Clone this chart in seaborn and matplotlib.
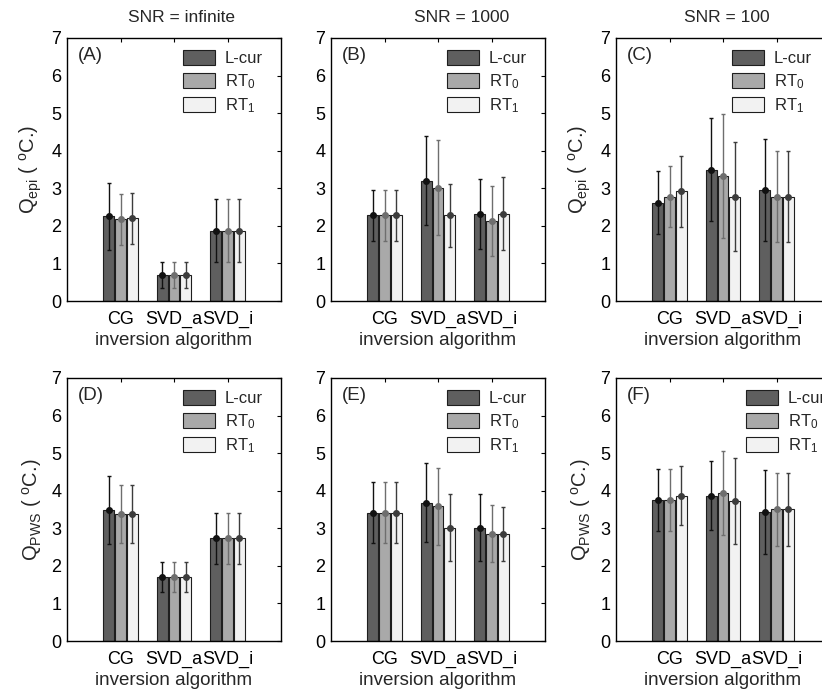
import numpy as np
import pandas as pd
import matplotlib
matplotlib.use('Agg')
import matplotlib.pyplot as plt
import seaborn as sns

sns.set_theme(style='white')
plt.rcParams['font.family'] = ['Liberation Sans', 'DejaVu Sans']
plt.rcParams['mathtext.default'] = 'regular'

# categories and methods
algorithms = ['CG', 'SVD_a', 'SVD_i']
methods = ['L-cur', 'RT$_0$', 'RT$_1$']
snr_titles = ['SNR = infinite', 'SNR = 1000', 'SNR = 100']
panel_tags = ['(A)', '(B)', '(C)', '(D)', '(E)', '(F)']

# mean values, one row per method (L-cur, RT0, RT1), columns = CG, SVD_a, SVD_i
epi_inf_mean = [[2.25, 0.70, 1.87], [2.18, 0.70, 1.87], [2.20, 0.70, 1.87]]
epi_inf_err = [[0.88, 0.35, 0.84], [0.68, 0.35, 0.84], [0.68, 0.35, 0.84]]
epi_1000_mean = [[2.28, 3.20, 2.32], [2.28, 3.02, 2.13], [2.28, 2.28, 2.32]]
epi_1000_err = [[0.68, 1.18, 0.93], [0.68, 1.27, 0.92], [0.68, 0.83, 0.97]]
epi_100_mean = [[2.62, 3.50, 2.95], [2.78, 3.33, 2.78], [2.92, 2.78, 2.78]]
epi_100_err = [[0.83, 1.37, 1.35], [0.80, 1.64, 1.22], [0.94, 1.44, 1.22]]

pws_inf_mean = [[3.48, 1.70, 2.73], [3.38, 1.70, 2.73], [3.38, 1.70, 2.73]]
pws_inf_err = [[0.90, 0.39, 0.68], [0.77, 0.39, 0.68], [0.77, 0.39, 0.68]]
pws_1000_mean = [[3.42, 3.68, 3.02], [3.42, 3.58, 2.85], [3.42, 3.02, 2.85]]
pws_1000_err = [[0.80, 1.05, 0.90], [0.80, 1.03, 0.76], [0.80, 0.89, 0.72]]
pws_100_mean = [[3.76, 3.87, 3.44], [3.76, 3.94, 3.51], [3.87, 3.73, 3.51]]
pws_100_err = [[0.83, 0.92, 1.12], [0.82, 1.13, 0.97], [0.79, 1.15, 0.97]]

bar_colors = ['#5f5f5f', '#a9a9a9', '#f2f2f2']
err_colors = ['#111111', '#6e6e6e', '#3c3c3c']

panels = [
    (epi_inf_mean, epi_inf_err), (epi_1000_mean, epi_1000_err), (epi_100_mean, epi_100_err),
    (pws_inf_mean, pws_inf_err), (pws_1000_mean, pws_1000_err), (pws_100_mean, pws_100_err),
]

W, H = 822, 693
fig = plt.figure(figsize=(W / 100, H / 100), dpi=100)

col_left = [67, 331, 616]
row_top = [38, 378]
ax_w, ax_h = 214, 263
title_x = [0.535, 0.61, 0.52]
legend_x = [116 / 214, 116 / 214, 116 / 214, 116 / 214, 116 / 214, 130 / 214]

for i, (mean, err) in enumerate(panels):
    r, c = divmod(i, 3)
    ax = fig.add_axes([col_left[c] / W, 1 - (row_top[r] + ax_h) / H, ax_w / W, ax_h / H])

    df = pd.DataFrame({
        'algorithm': [a for m in methods for a in algorithms],
        'method': [m for m in methods for a in algorithms],
        'value': np.array(mean).ravel(),
    })
    sns.barplot(data=df, x='algorithm', y='value', hue='method', order=algorithms,
                hue_order=methods, palette=bar_colors, width=0.66, gap=0.1,
                errorbar=None, edgecolor='#1e1e1e', linewidth=0.8, ax=ax)

    # error bars with a dot at the mean
    bar_groups = list(ax.containers)
    for k, cont in enumerate(bar_groups):
        xs = [p.get_x() + p.get_width() / 2 for p in cont.patches]
        ax.errorbar(xs, mean[k], yerr=err[k], fmt='o', color=err_colors[k],
                    ms=4, elinewidth=1, capsize=1.5, capthick=1, zorder=5)

    ax.set_xlim(-1, 3)
    ax.set_ylim(0, 7)
    ax.set_yticks(range(8))
    ax.tick_params(direction='in', top=True, right=True, labelsize=13,
                   length=3, width=0.8, colors='black', pad=4)
    ax.tick_params(axis='x', pad=7)
    for s in ax.spines.values():
        s.set_color('black')
        s.set_linewidth(1)

    ax.set_xlabel('inversion algorithm', fontsize=13.5, labelpad=3)
    if c != 1:
        if r == 0:
            ax.set_ylabel('Q$_{epi}$ ( $^{o}$C.)', fontsize=14.5, labelpad=5)
        else:
            ax.set_ylabel('Q$_{PWS}$ ( $^{o}$C.)', fontsize=14.5, labelpad=5)
    else:
        ax.set_ylabel('')

    if r == 0:
        ax.text(title_x[c], 1.05, snr_titles[c], transform=ax.transAxes,
                ha='center', va='bottom', fontsize=12.5)

    ax.text(0.05, 0.935, panel_tags[i], transform=ax.transAxes,
            ha='left', va='center', fontsize=13.5)

    handles, labels = ax.get_legend_handles_labels()
    ax.legend(handles, labels, loc='upper left', bbox_to_anchor=(legend_x[i], 1 - 12 / ax_h),
              frameon=False, fontsize=12, borderpad=0, borderaxespad=0,
              handlelength=1.9, handleheight=1.0, labelspacing=0.35, handletextpad=0.6)

fig.savefig('out.png', dpi=100)
